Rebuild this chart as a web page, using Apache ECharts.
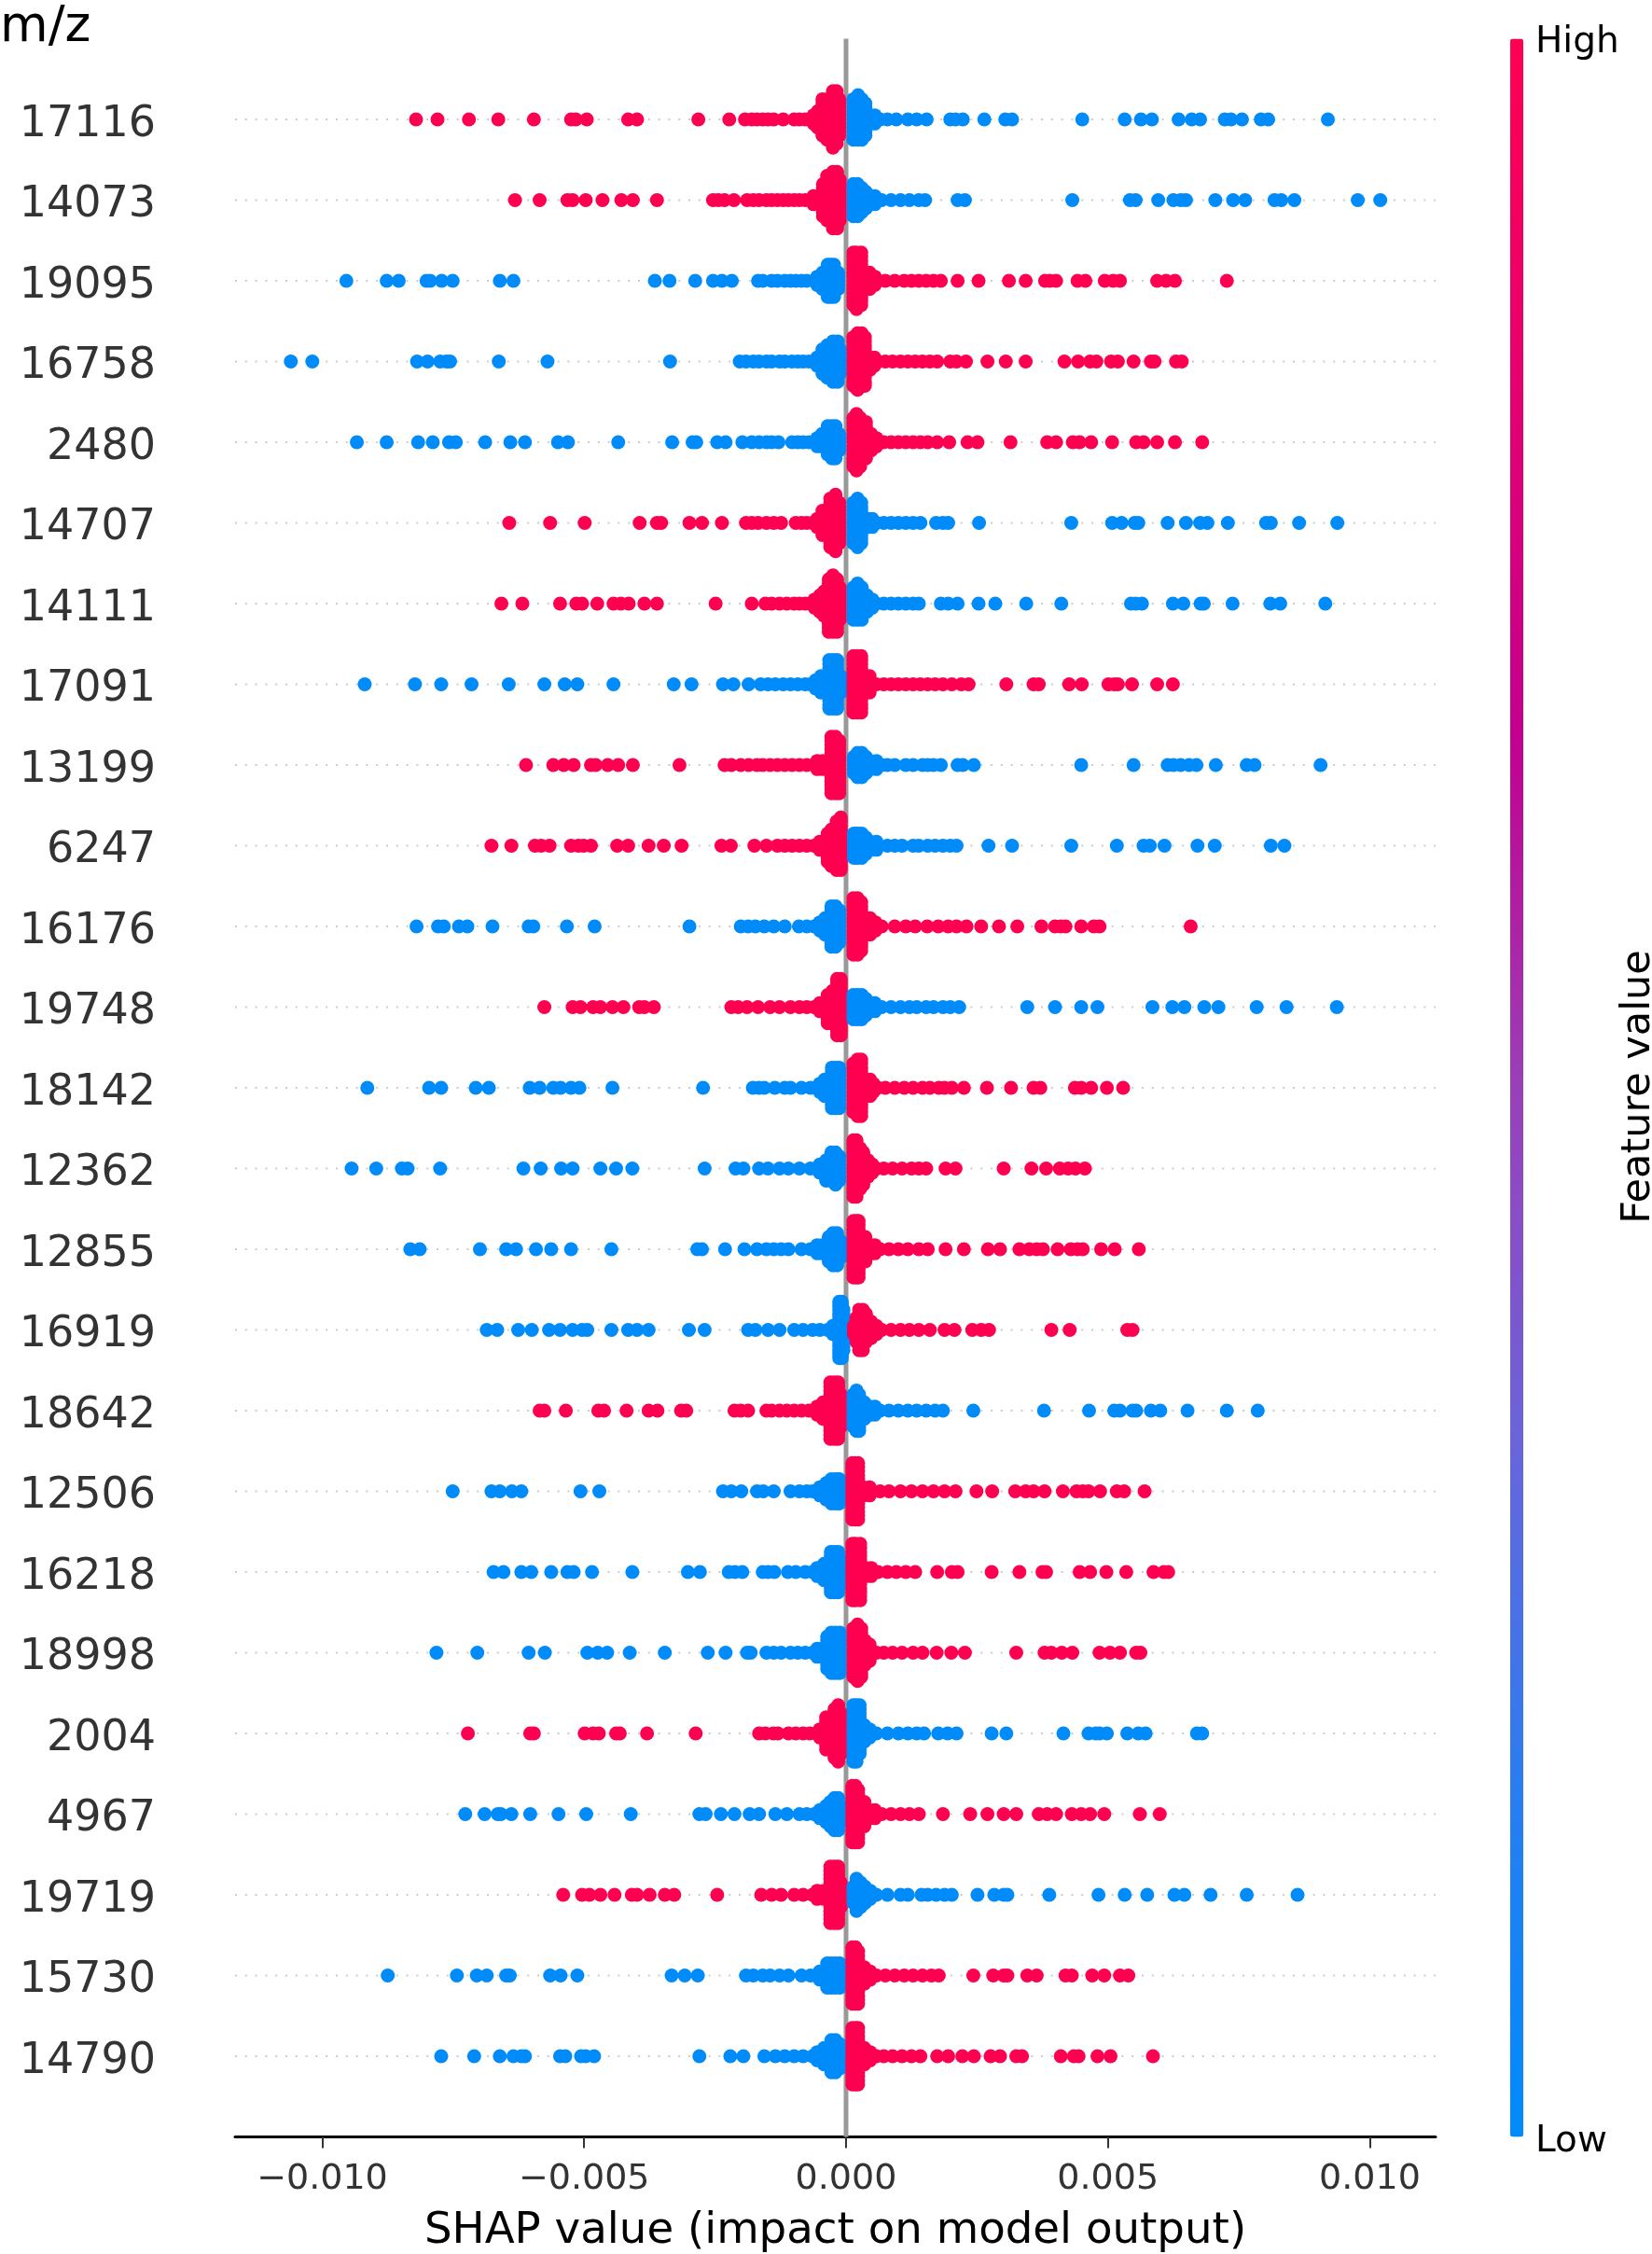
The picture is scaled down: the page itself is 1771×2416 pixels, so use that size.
<!DOCTYPE html>
<html><head><meta charset="utf-8">
<style>html,body{margin:0;padding:0;background:#fff}#c{width:1771px;height:2416px}</style>
<script src="https://cdn.jsdelivr.net/npm/echarts@6/dist/echarts.min.js"></script>
</head><body><div id="c"></div>
<script>
const rowLabels=['17116','14073','19095','16758','2480','14707','14111','17091','13199','6247','16176','19748','18142','12362','12855','16919','18642','12506','16218','18998','2004','4967','19719','15730','14790'];
const xTickValues=[-0.01,-0.005,0,0.005,0.01];
const xTickLabels=['\u22120.010','\u22120.005','0.000','0.005','0.010'];
const featureOnNegSide=[1,1,0,0,0,1,1,0,1,1,0,1,0,0,0,0,1,0,0,0,1,0,1,0,0];
// SHAP values, in thousandths
const negTail=[
[-8.21,-7.8,-7.2,-6.64,-5.96,-5.25,-5.16,-4.95,-4.16,-3.99,-2.82,-2.23,-1.93,-1.8,-1.7,-1.59,-1.49,-1.38,-1.2,-.99,-.89,-.78,-.68],
[-6.32,-5.85,-5.32,-5.22,-4.97,-4.65,-4.29,-4.07,-3.61,-2.54,-2.44,-2.32,-2.14,-1.89,-1.77,-1.66,-1.52,-1.42,-1.31,-1.2,-1.1,-.99,-.89,-.78,-.68],
[-9.54,-8.77,-8.54,-8.01,-7.94,-7.72,-7.51,-6.61,-6.35,-3.65,-3.37,-2.88,-2.54,-2.37,-2.18,-1.68,-1.59,-1.42,-1.31,-1.17,-1.06,-.96,-.85,-.75],
[-10.6,-10.19,-8.19,-7.99,-7.75,-7.63,-7.56,-6.63,-5.7,-3.36,-2.03,-1.91,-1.77,-1.66,-1.52,-1.42,-1.27,-1.17,-1.03,-.92,-.82,-.71],
[-9.34,-8.77,-8.17,-7.89,-7.58,-7.45,-6.89,-6.41,-6.13,-5.5,-5.31,-4.35,-3.32,-2.93,-2.86,-2.46,-2.3,-1.98,-1.8,-1.66,-1.52,-1.42,-1.29,-1.03,-.92,-.82,-.71],
[-6.43,-5.65,-4.99,-3.94,-3.61,-3.53,-2.99,-2.75,-2.37,-1.91,-1.8,-1.68,-1.52,-1.38,-1.24,-.96,-.85,-.75,-.64],
[-6.58,-6.18,-5.46,-5.15,-5.04,-4.75,-4.44,-4.3,-4.15,-3.85,-3.61,-2.49,-1.8,-1.54,-1.42,-1.27,-1.13,-.99,-.89,-.78,-.68],
[-9.19,-8.23,-7.73,-7.15,-6.44,-5.76,-5.37,-5.13,-4.44,-3.29,-2.95,-2.35,-2.15,-1.86,-1.63,-1.49,-1.35,-1.2,-1.06,-.92,-.78,-.68],
[-6.11,-5.59,-5.39,-5.2,-4.87,-4.78,-4.55,-4.35,-4.07,-3.18,-2.32,-2.19,-2.01,-1.86,-1.7,-1.59,-1.45,-1.31,-1.17,-1.03,-.89,-.75,-.61],
[-6.77,-6.39,-5.94,-5.82,-5.66,-5.25,-5.11,-5.01,-4.87,-4.37,-4.16,-3.77,-3.48,-3.14,-2.38,-2.2,-1.75,-1.52,-1.31,-1.17,-1.03,-.89,-.75,-.61],
[-8.2,-7.79,-7.68,-7.39,-7.23,-6.75,-6.06,-5.97,-5.33,-4.8,-2.99,-2.01,-1.87,-1.73,-1.56,-1.38,-1.17,-.9,-.75,-.61],
[-5.76,-5.22,-5.07,-4.83,-4.69,-4.46,-4.25,-3.95,-3.85,-3.67,-2.19,-2.06,-1.89,-1.68,-1.45,-1.27,-1.06,-.89,-.75,-.61],
[-9.14,-7.96,-7.73,-7.07,-6.82,-6.04,-5.85,-5.59,-5.45,-5.25,-5.09,-4.46,-2.73,-1.78,-1.66,-1.56,-1.36,-1.17,-1.06,-.85,-.68],
[-9.44,-8.97,-8.48,-8.37,-7.75,-6.16,-5.83,-5.44,-5.22,-4.69,-4.39,-4.08,-2.7,-2.11,-1.96,-1.66,-1.49,-1.27,-1.1,-.89,-.68],
[-8.32,-8.14,-6.99,-6.49,-6.3,-5.92,-5.63,-5.25,-4.48,-2.84,-2.75,-2.31,-1.94,-1.7,-1.52,-1.38,-1.24,-1.1,-.85,-.68],
[-6.86,-6.66,-6.26,-6,-5.67,-5.46,-5.22,-5.04,-4.94,-4.48,-4.16,-3.99,-3.77,-3,-2.7,-1.87,-1.73,-1.49,-1.27,-.99,-.82,-.64,-.5],
[-5.85,-5.76,-5.35,-4.73,-4.62,-4.19,-3.77,-3.6,-3.15,-3.05,-2.13,-2.01,-1.87,-1.52,-1.42,-1.27,-1.13,-.99,-.85,-.71],
[-7.51,-6.77,-6.61,-6.38,-6.2,-5.07,-4.71,-2.35,-2.19,-2,-1.7,-1.58,-1.38,-1.06,-.89,-.75,-.64],
[-6.73,-6.54,-6.2,-6.01,-5.63,-5.32,-5.2,-4.85,-4.08,-3.02,-2.79,-2.24,-2.12,-1.98,-1.59,-1.49,-1.37,-1.11,-.96,-.78,-.64],
[-7.82,-7.04,-6.06,-5.75,-4.94,-4.74,-4.56,-4.13,-3.46,-2.64,-2.3,-1.89,-1.82,-1.52,-1.38,-1.24,-1.06,-.92,-.78,-.64],
[-7.22,-6.03,-5.96,-4.99,-4.83,-4.72,-4.39,-4.32,-3.8,-2.87,-1.66,-1.54,-1.39,-1.3,-1.1,-.96,-.82,-.69],
[-7.27,-6.9,-6.65,-6.59,-6.39,-6.03,-5.49,-4.96,-4.11,-2.8,-2.68,-2.39,-2.13,-1.84,-1.66,-1.35,-1.13,-.89,-.75,-.61],
[-5.4,-5.04,-4.9,-4.69,-4.42,-4.09,-3.99,-3.75,-3.46,-3.28,-2.46,-1.62,-1.42,-1.24,-.99,-.82,-.64],
[-8.75,-7.43,-7.05,-6.86,-6.49,-6.42,-5.65,-5.45,-5.13,-3.33,-3.08,-2.83,-1.91,-1.77,-1.59,-1.45,-1.27,-1.1,-.85,-.68],
[-7.73,-7.1,-6.61,-6.35,-6.2,-6.13,-5.46,-5.36,-5.06,-4.97,-4.81,-2.8,-2.21,-1.96,-1.56,-1.35,-1.17,-.99,-.82,-.64]
];
const posTail=[
[.65,.79,.96,1.18,1.35,1.54,1.99,2.09,2.23,2.64,3.04,3.17,4.51,5.32,5.63,5.84,6.35,6.6,6.76,7.23,7.35,7.56,7.92,8.06,9.2],
[.68,.86,1.04,1.21,1.39,1.51,2.13,2.27,4.32,5.42,5.53,5.96,6.25,6.39,6.49,7.05,7.39,7.62,8.18,8.31,8.56,9.77,10.2],
[.61,.75,.93,1.11,1.25,1.39,1.53,1.67,1.81,2.13,2.53,3.11,3.43,3.8,3.89,4.01,4.42,4.57,4.94,5.1,5.23,5.94,6.11,6.28,7.27],
[.61,.75,.89,1.04,1.18,1.32,1.46,1.6,1.74,1.99,2.11,2.29,2.7,3.05,3.43,4.17,4.43,4.66,4.78,5.06,5.19,5.49,5.82,5.89,6.3,6.41],
[.72,.86,1,1.14,1.28,1.42,1.56,1.74,1.97,2.32,2.51,3.14,3.84,4.01,4.33,4.46,4.68,5.08,5.54,5.68,5.94,6.28,6.8],
[.58,.72,.86,1,1.14,1.28,1.42,1.72,1.85,1.95,2.54,4.3,5.08,5.26,5.51,5.58,6.14,6.49,6.76,6.9,7.29,8.02,8.11,8.65,9.38],
[.58,.72,.86,1,1.14,1.28,1.39,1.81,1.95,2.13,2.53,2.85,3.44,4.11,5.44,5.53,5.65,6.24,6.44,6.77,6.83,7.38,8.1,8.29,9.15],
[.58,.72,.86,1,1.14,1.28,1.42,1.56,1.7,1.85,2.02,2.2,2.34,3.06,3.58,3.68,4.26,4.5,5.01,5.12,5.19,5.46,5.94,6.24],
[.68,.79,.93,1.14,1.28,1.46,1.56,1.67,1.81,2.13,2.23,2.44,4.49,5.49,6.14,6.25,6.39,6.55,6.69,7.06,7.65,7.8,9.06],
[.79,.93,1.07,1.28,1.39,1.56,1.7,1.85,1.99,2.11,2.72,3.17,4.3,5.17,5.68,5.8,6.08,6.71,7.04,8.11,8.37],
[.68,.93,1.14,1.32,1.55,1.76,1.95,2.11,2.3,2.58,2.92,3.27,3.73,3.99,4.1,4.19,4.49,4.73,4.84,6.58],
[.68,.86,1.04,1.21,1.35,1.53,1.67,1.85,1.99,2.16,3.46,3.99,4.49,4.8,5.85,6.23,6.46,6.84,7.11,7.84,8.41,9.37],
[.61,.75,.93,1.11,1.28,1.46,1.6,1.77,1.88,2.02,2.25,2.69,3.15,3.58,3.71,4.37,4.49,4.68,4.98,5.29],
[.58,.72,.89,1.07,1.25,1.39,1.53,1.9,2.09,3.01,3.54,3.82,4.08,4.24,4.38,4.56],
[.65,.82,1,1.18,1.39,1.56,1.9,2.25,2.71,2.94,3.31,3.5,3.64,3.76,4.04,4.29,4.42,4.52,4.87,5.13,5.59],
[.68,.86,1.04,1.21,1.39,1.6,1.88,2.07,2.41,2.58,2.73,3.92,4.27,5.37,5.47],
[.65,.82,1,1.18,1.35,1.53,1.7,1.85,2.43,3.78,4.64,5.12,5.23,5.47,5.54,5.82,6,6.52,7.27,7.86],
[.65,.82,1.04,1.25,1.46,1.67,1.88,2.09,2.49,2.79,3.23,3.43,3.58,3.79,4.14,4.4,4.52,4.63,4.85,5.17,5.31,5.7],
[.61,.79,.96,1.14,1.32,1.74,2.02,2.13,2.78,3.31,3.75,3.82,4.46,4.66,4.97,5.35,5.87,6.07,6.15],
[.58,.72,.89,1.07,1.28,1.46,1.73,2.01,2.27,3.25,3.79,3.92,4.12,4.32,4.84,5.04,5.23,5.54,5.62],
[.58,.79,1,1.18,1.35,1.49,1.76,1.94,2.11,2.78,3.06,4.15,4.63,4.77,4.84,4.98,5.37,5.58,5.72,6.7,6.8],
[.68,.86,1.04,1.21,1.39,1.85,2.37,2.7,3.01,3.25,3.68,3.84,4.01,4.31,4.49,4.66,4.93,5.61,5.99],
[.58,.79,1.04,1.18,1.44,1.56,1.72,1.88,2.02,2.51,2.83,3.01,3.08,3.88,4.82,5.32,5.75,6.27,6.46,6.96,7.65,8.62],
[.58,.75,.93,1.11,1.28,1.46,1.63,1.77,2.43,2.81,3.01,3.08,3.46,3.64,4.19,4.31,4.7,4.93,5.23,5.39],
[.58,.72,.89,1.07,1.25,1.42,1.74,1.95,2.22,2.44,2.76,2.94,3.25,3.36,4.1,4.35,4.44,4.8,5.05,5.86]
];
// Dense swarm columns: [value in thousandths, points stacked above, points stacked below]
const negCore=[
[[-.62,1,1],[-.54,2,2],[-.45,5,4],[-.36,5,5],[-.25,7,7],[-.18,7,6],[-.13,5,4]],
[[-.62,1,1],[-.5,1,1],[-.44,4,4],[-.36,6,5],[-.25,7,7],[-.17,7,7],[-.12,5,5]],
[[-.55,1,1],[-.45,2,2],[-.35,4,4],[-.29,4,4],[-.23,4,4],[-.15,2,2]],
[[-.55,1,1],[-.45,3,3],[-.36,4,4],[-.25,5,5],[-.16,5,5],[-.12,3,3]],
[[-.55,1,1],[-.46,2,1],[-.35,4,3],[-.27,4,4],[-.2,4,4],[-.13,2,2]],
[[-.55,1,1],[-.45,3,3],[-.37,3,3],[-.3,6,6],[-.2,7,7],[-.13,5,5]],
[[-.6,1,1],[-.5,2,2],[-.42,3,3],[-.33,6,7],[-.25,7,7],[-.17,6,7],[-.12,4,4]],
[[-.58,1,1],[-.48,2,2],[-.32,6,6],[-.24,6,6],[-.17,6,6],[-.1,2,2]],
[[-.55,1,1],[-.44,1,1],[-.28,7,7],[-.2,7,7],[-.13,6,7]],
[[-.5,1,1],[-.35,3,4],[-.28,4,5],[-.18,6,6],[-.1,7,6]],
[[-.5,1,1],[-.4,2,2],[-.28,5,5],[-.2,5,5],[-.13,4,4]],
[[-.5,1,1],[-.35,3,4],[-.26,4,4],[-.17,7,7],[-.1,7,7]],
[[-.5,1,1],[-.41,2,2],[-.27,5,5],[-.2,5,5],[-.13,5,5]],
[[-.5,1,1],[-.38,2,3],[-.28,4,3],[-.2,4,4],[-.13,3,3]],
[[-.55,1,1],[-.45,1,1],[-.33,3,3],[-.25,4,4],[-.17,4,4],[-.1,2,2]],
[[-.35,0,0],[-.25,1,1],[-.13,7,7],[-.08,7,7],[-.05,5,5]],
[[-.55,1,1],[-.44,2,2],[-.3,7,7],[-.22,7,7],[-.15,7,7],[-.1,4,4]],
[[-.5,1,1],[-.38,2,2],[-.28,3,3],[-.2,3,3],[-.13,3,3]],
[[-.55,1,1],[-.42,2,2],[-.29,5,5],[-.22,5,5],[-.15,5,5],[-.1,3,3]],
[[-.55,1,1],[-.45,1,1],[-.36,4,4],[-.28,5,5],[-.2,5,5],[-.12,5,5]],
[[-.5,1,1],[-.38,4,4],[-.3,4,4],[-.22,6,6],[-.15,7,7],[-.1,5,5]],
[[-.5,1,1],[-.38,2,2],[-.3,3,3],[-.22,4,4],[-.15,4,4],[-.1,2,2]],
[[-.55,1,1],[-.42,1,1],[-.3,7,7],[-.22,7,7],[-.15,7,7],[-.1,3,3]],
[[-.5,1,1],[-.36,3,3],[-.28,3,3],[-.2,3,3],[-.12,3,3]],
[[-.55,1,1],[-.42,2,2],[-.28,4,4],[-.2,4,4],[-.12,3,3]]
];
const posCore=[
[[.14,5,5],[.23,6,5],[.3,5,5],[.37,4,4],[.47,1,1],[.55,1,1]],
[[.14,4,4],[.22,4,4],[.3,3,3],[.38,2,2],[.47,1,1],[.55,1,1]],
[[.14,7,6],[.2,7,7],[.29,7,6],[.38,2,2],[.45,2,2],[.55,1,1]],
[[.14,6,6],[.22,7,7],[.3,7,6],[.36,6,6],[.46,1,2],[.54,1,1]],
[[.14,6,6],[.2,7,7],[.27,6,6],[.38,5,4],[.48,2,2],[.58,1,1]],
[[.14,5,5],[.22,6,6],[.29,5,5],[.42,1,1],[.5,1,1]],
[[.14,4,4],[.22,5,4],[.3,4,4],[.4,2,2],[.5,1,1]],
[[.14,7,7],[.21,7,7],[.29,7,7],[.36,2,2],[.45,2,2]],
[[.15,2,2],[.22,3,3],[.3,3,3],[.38,2,2],[.46,1,1],[.58,1,1]],
[[.15,3,3],[.22,3,3],[.3,3,3],[.38,2,2],[.46,1,1],[.58,1,1]],
[[.14,7,7],[.22,7,7],[.29,6,6],[.38,2,2],[.46,2,2],[.56,1,1]],
[[.14,3,3],[.22,3,3],[.3,3,3],[.38,2,2],[.47,1,1],[.55,1,1]],
[[.14,6,6],[.22,7,7],[.29,7,7],[.38,2,2],[.46,2,2],[.52,1,1]],
[[.14,7,7],[.2,7,7],[.27,5,5],[.33,4,4],[.42,2,2],[.5,1,1]],
[[.14,7,7],[.2,7,7],[.24,7,7],[.37,3,3],[.47,1,1],[.55,1,1]],
[[.15,1,1],[.2,3,3],[.25,5,5],[.32,5,5],[.38,4,3],[.48,2,2],[.58,1,1]],
[[.14,4,4],[.2,5,5],[.25,4,5],[.35,2,2],[.45,1,1],[.55,1,1]],
[[.12,7,7],[.18,7,7],[.23,7,7],[.33,1,1],[.45,1,1]],
[[.12,7,7],[.18,7,7],[.27,7,7],[.38,1,1],[.48,1,1]],
[[.14,6,6],[.22,7,7],[.29,6,6],[.36,3,3],[.45,2,2]],
[[.14,7,7],[.2,7,7],[.26,7,5],[.35,2,2],[.45,1,1]],
[[.12,7,7],[.18,7,7],[.23,6,7],[.35,3,3],[.45,1,1],[.55,1,1]],
[[.14,2,2],[.2,4,4],[.28,3,3],[.36,2,2],[.46,1,1]],
[[.12,7,7],[.18,7,7],[.23,6,7],[.35,2,2],[.46,1,1]],
[[.12,7,7],[.18,7,7],[.23,7,7],[.35,2,2],[.46,1,1]]
];
const colorStops=['#008bfb','#2a7df0','#6a64db','#9a40b8','#c20090','#e5006f','#ff0051'];
const xMin=-0.011665,xMax=0.011256,layerStep=0.05;

const points=[];
rowLabels.forEach((_,row)=>{
  const negF=featureOnNegSide[row],posF=1-negF;
  negTail[row].forEach(v=>points.push([v*1e-3,row,negF]));
  posTail[row].forEach(v=>points.push([v*1e-3,row,posF]));
  const col=(c,f)=>{for(let k=-c[1];k<=c[2];k++)points.push([c[0]*1e-3,row+k*layerStep,f]);};
  negCore[row].forEach(c=>col(c,negF));
  posCore[row].forEach(c=>col(c,posF));
});
const font='"DejaVu Sans"';
const dotted=rowLabels.map((_,row)=>({type:'line',silent:true,symbol:'none',z:1,animation:false,
  data:[[xMin,row],[xMax,row]],lineStyle:{color:'#ccc',width:2,type:[2,8.8]}}));
const chart=echarts.init(document.getElementById('c'),null,{renderer:'canvas'});
chart.setOption({
  animation:false,backgroundColor:'#fff',
  grid:{left:252,right:232,top:41.5,bottom:125.5,outerBoundsMode:'none'},
  xAxis:{type:'value',min:xMin,max:xMax,position:'bottom',
    name:'SHAP value (impact on model output)',nameLocation:'middle',nameGap:78,
    nameTextStyle:{fontFamily:font,fontSize:46.7,color:'#000'},
    axisLine:{onZero:false,lineStyle:{color:'#000',width:3}},
    axisTick:{show:true,length:12,lineStyle:{color:'#333',width:2},customValues:xTickValues},
    axisLabel:{fontFamily:font,fontSize:38,color:'#333',margin:27,customValues:xTickValues,
      formatter:v=>xTickLabels[xTickValues.findIndex(t=>Math.abs(t-v)<1e-9)]},
    splitLine:{show:false}},
  yAxis:{type:'value',inverse:true,min:-1,max:25,interval:1,
    axisLine:{show:false},axisTick:{show:false},splitLine:{show:false},
    axisLabel:{fontFamily:font,fontSize:46,color:'#333',margin:85,verticalAlign:'top',lineHeight:12,formatter:v=>rowLabels[v]||''}},
  visualMap:{type:'continuous',min:0,max:1,dimension:2,seriesIndex:rowLabels.length+1,
    left:1604,top:26.5,itemWidth:14,itemHeight:2249,calculable:false,hoverLink:false,showLabel:false,text:null,
    inRange:{color:colorStops}},
  series:[...dotted,
    {type:'line',silent:true,symbol:'none',z:2,data:[[0,-1],[0,25]],lineStyle:{color:'#999',width:5}},
    {type:'scatter',z:3,symbol:'circle',symbolSize:15,progressive:0,large:false,silent:true,itemStyle:{opacity:1},data:points}
  ],
  graphic:[
    {type:'text',x:0,y:30,silent:true,style:{text:'m/z',fontFamily:font,fontSize:53,fill:'#000',textVerticalAlign:'middle'}},
    {type:'text',x:1646,y:46,silent:true,style:{text:'High',fontFamily:font,fontSize:39,fill:'#000',textVerticalAlign:'middle'}},
    {type:'text',x:1646,y:2296,silent:true,style:{text:'Low',fontFamily:font,fontSize:39,fill:'#000',textVerticalAlign:'middle'}},
    {type:'text',x:1757,y:1165,rotation:Math.PI/2,silent:true,style:{text:'Feature value',fontFamily:font,fontSize:43,fill:'#000',textAlign:'center',textVerticalAlign:'middle'}}
  ]
});
</script></body></html>
